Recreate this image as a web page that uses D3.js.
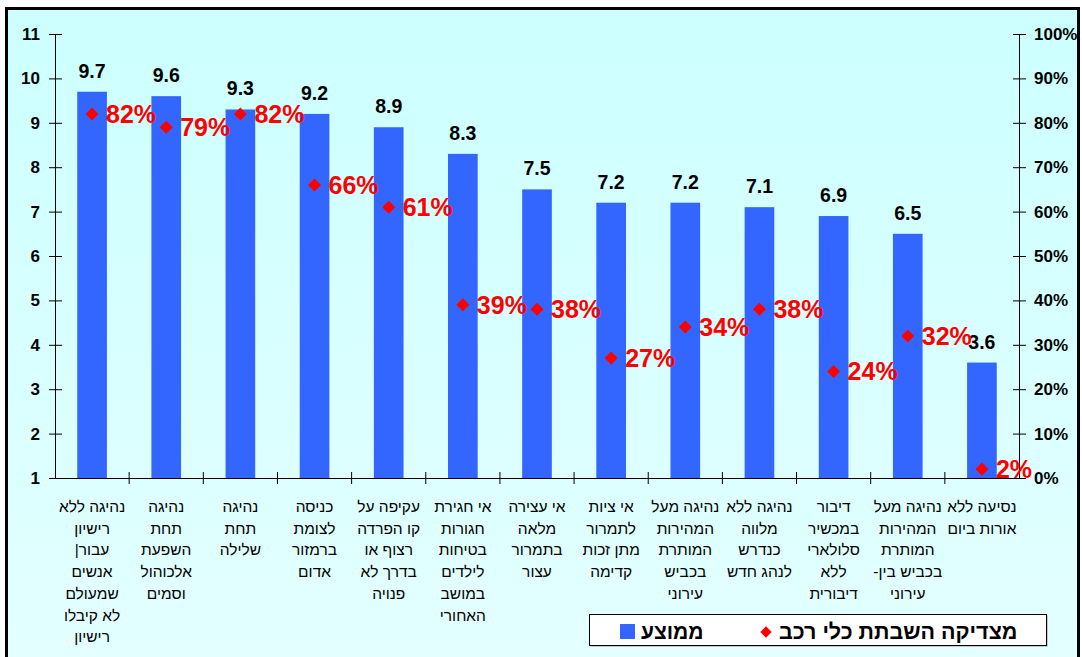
<!DOCTYPE html>
<html>
<head>
<meta charset="utf-8">
<script src="https://cdn.jsdelivr.net/npm/d3@7"></script>
<style>
  html, body { margin: 0; padding: 0; background: #fff; }
  svg { display: block; font-family: Arial, "Liberation Sans", sans-serif; }
  .heb { direction: rtl; unicode-bidi: bidi-override; }
</style>
</head>
<body>
<svg id="chart" width="1082" height="657"></svg>
<script>
// category labels, one array of lines per category
const categories = [
  ["נהיגה ללא", "רישיון", "עבור|", "אנשים", "שמעולם", "לא קיבלו", "רישיון"],
  ["נהיגה", "תחת", "השפעת", "אלכוהול", "וסמים"],
  ["נהיגה", "תחת", "שלילה"],
  ["כניסה", "לצומת", "ברמזור", "אדום"],
  ["עקיפה על", "קו הפרדה", "רצוף או", "בדרך לא", "פנויה"],
  ["אי חגירת", "חגורות", "בטיחות", "לילדים", "במושב", "האחורי"],
  ["אי עצירה", "מלאה", "בתמרור", "עצור"],
  ["אי ציות", "לתמרור", "מתן זכות", "קדימה"],
  ["נהיגה מעל", "המהירות", "המותרת", "בכביש", "עירוני"],
  ["נהיגה ללא", "מלווה", "כנדרש", "לנהג חדש"],
  ["דיבור", "במכשיר", "סלולארי", "ללא", "דיבורית"],
  ["נהיגה מעל", "המהירות", "המותרת", "בכביש בין-", "עירוני"],
  ["נסיעה ללא", "אורות ביום"]
];
const averages = [9.7, 9.6, 9.3, 9.2, 8.9, 8.3, 7.5, 7.2, 7.2, 7.1, 6.9, 6.5, 3.6];
const justifyPct = [0.82, 0.79, 0.82, 0.66, 0.61, 0.39, 0.38, 0.27, 0.34, 0.38, 0.24, 0.32, 0.02];

const leftTicks = [1, 2, 3, 4, 5, 6, 7, 8, 9, 10, 11];
const rightTicks = [0, 0.1, 0.2, 0.3, 0.4, 0.5, 0.6, 0.7, 0.8, 0.9, 1];
const legendAvg = "ממוצע";
const legendPct = "מצדיקה השבתת כלי רכב";

const svg = d3.select("#chart");

const plot = { left: 55, right: 1019, top: 34, bottom: 478 };

// background gradient + frame
const defs = svg.append("defs");
const grad = defs.append("linearGradient")
    .attr("id", "bg").attr("x1", 0).attr("y1", 0).attr("x2", 0).attr("y2", 1);
grad.append("stop").attr("offset", "0%").attr("stop-color", "#ccffff");
grad.append("stop").attr("offset", "100%").attr("stop-color", "#e4ffff");

svg.append("rect")
    .attr("x", 6.5).attr("y", 8.5)
    .attr("width", 1072).attr("height", 660)
    .attr("fill", "url(#bg)")
    .attr("stroke", "#000")
    .attr("stroke-width", 3);

const x = d3.scaleBand()
    .domain(d3.range(categories.length))
    .range([plot.left, plot.right])
    .paddingInner(0.6)
    .paddingOuter(0.3);

const xStep = d3.scaleBand()
    .domain(d3.range(categories.length))
    .range([plot.left, plot.right]);

const yL = d3.scaleLinear().domain([1, 11]).range([plot.bottom, plot.top]);
const yR = d3.scaleLinear().domain([0, 1]).range([plot.bottom, plot.top]);

// bars
svg.append("g")
    .selectAll("rect")
    .data(averages)
    .enter().append("rect")
    .attr("x", (d, i) => x(i))
    .attr("y", d => yL(d))
    .attr("width", x.bandwidth())
    .attr("height", d => yL(1) - yL(d))
    .attr("fill", "#3366ff");

// bar value labels
svg.append("g")
    .selectAll("text")
    .data(averages)
    .enter().append("text")
    .attr("x", (d, i) => x(i) + x.bandwidth() / 2)
    .attr("y", d => yL(d) - 14)
    .attr("text-anchor", "middle")
    .attr("font-size", 19.5)
    .attr("font-weight", "bold")
    .attr("fill", "#000")
    .text(d => d.toFixed(1));

// left axis
const axL = svg.append("g")
    .attr("transform", `translate(${plot.left},0)`)
    .call(d3.axisLeft(yL).tickValues(leftTicks).tickSize(6).tickFormat(d3.format("d")));
axL.selectAll(".tick line").attr("x2", 7).attr("x1", -6);
axL.selectAll(".tick text").attr("x", -15).attr("font-size", 17).attr("font-weight", "bold")
    .attr("font-family", "Arial, 'Liberation Sans', sans-serif").attr("fill", "#000");

// right axis
const axR = svg.append("g")
    .attr("transform", `translate(${plot.right},0)`)
    .call(d3.axisRight(yR).tickValues(rightTicks).tickSize(7).tickFormat(d3.format(".0%")));
axR.selectAll(".tick line").attr("x1", -6).attr("x2", 7);
axR.selectAll(".tick text").attr("x", 15).attr("font-size", 17).attr("font-weight", "bold")
    .attr("font-family", "Arial, 'Liberation Sans', sans-serif").attr("fill", "#000");

// category axis
const axB = svg.append("g")
    .attr("transform", `translate(0,${plot.bottom})`)
    .call(d3.axisBottom(xStep).tickSize(0).tickFormat(""));
axB.selectAll(".tick").remove();
axB.append("g")
    .selectAll("line")
    .data(d3.range(1, categories.length))
    .enter().append("line")
    .attr("x1", i => xStep(i)).attr("x2", i => xStep(i))
    .attr("y1", -6).attr("y2", 6)
    .attr("stroke", "#000");
svg.selectAll(".domain").attr("stroke", "#000");

// category labels
const catG = svg.append("g")
    .selectAll("text")
    .data(categories)
    .enter().append("text")
    .attr("class", "heb")
    .attr("text-anchor", "middle")
    .attr("font-size", 15.5)
    .attr("fill", "#000");
catG.selectAll("tspan")
    .data((d, i) => d.map(line => ({ line, i })))
    .enter().append("tspan")
    .attr("x", d => xStep(d.i) + xStep.bandwidth() / 2)
    .attr("y", (d, j) => 512 + j * 21.7)
    .text(d => d.line);

// percentage markers
const diamond = d3.symbol().type(d3.symbolSquare).size(85);
svg.append("g")
    .selectAll("path")
    .data(justifyPct)
    .enter().append("path")
    .attr("d", diamond)
    .attr("transform", (d, i) => `translate(${x(i) + x.bandwidth() / 2},${yR(d)}) rotate(45)`)
    .attr("fill", "#ff0000");

svg.append("g")
    .selectAll("text")
    .data(justifyPct)
    .enter().append("text")
    .attr("x", (d, i) => x(i) + x.bandwidth() / 2 + 14)
    .attr("y", d => yR(d) + 9)
    .attr("font-size", 25)
    .attr("font-weight", "bold")
    .attr("fill", "#ff0000")
    .text(d => d3.format(".0%")(d));

// legend
const lg = svg.append("g");
lg.append("rect")
    .attr("x", 590.5).attr("y", 615.5).attr("width", 457).attr("height", 31)
    .attr("fill", "#999");
lg.append("rect")
    .attr("x", 589.5).attr("y", 614.5).attr("width", 457).attr("height", 31)
    .attr("fill", "#fff").attr("stroke", "#000");
lg.append("rect")
    .attr("x", 620).attr("y", 624).attr("width", 15).attr("height", 15)
    .attr("fill", "#3366ff");
lg.append("text")
    .attr("class", "heb")
    .attr("x", 641).attr("y", 639)
    .attr("text-anchor", "end")
    .attr("font-size", 21).attr("font-weight", "bold")
    .text(legendAvg);
lg.append("path")
    .attr("d", d3.symbol().type(d3.symbolSquare).size(64))
    .attr("transform", "translate(766,632) rotate(45)")
    .attr("fill", "#ff0000");
lg.append("text")
    .attr("class", "heb")
    .attr("x", 779).attr("y", 639)
    .attr("text-anchor", "end")
    .attr("font-size", 21.5).attr("font-weight", "bold")
    .text(legendPct);
</script>
</body>
</html>
